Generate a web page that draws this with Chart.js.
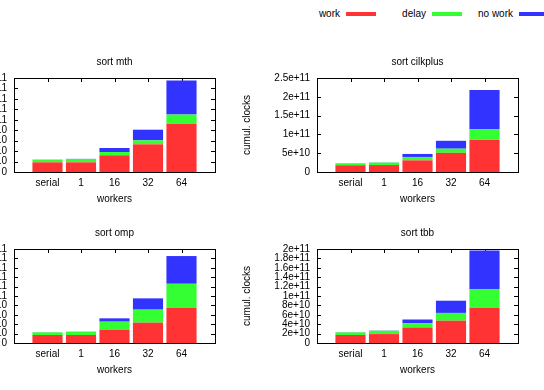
<!DOCTYPE html>
<html>
<head>
<meta charset="utf-8">
<script src="https://cdn.jsdelivr.net/npm/chart.js@4/dist/chart.umd.min.js"></script>
<style>
  body { margin: 0; width: 544px; height: 390px; overflow: hidden; background: #fff; position: relative;
         font-family: "Liberation Sans", Arial, sans-serif; font-size: 10px; color: #000; }
  .panel { position: absolute; width: 304px; height: 171px; }
  .key-text { position: absolute; top: 8px; text-align: right; white-space: nowrap; }
  .key-line { position: absolute; top: 12px; width: 30px; height: 4px; }
</style>
</head>
<body>
<div id="key"></div>
<div class="panel" style="left:-63px; top:40px"><canvas id="c1" width="304" height="171"></canvas></div>
<div class="panel" style="left:240px; top:40px"><canvas id="c2" width="304" height="171"></canvas></div>
<div class="panel" style="left:-63px; top:211px"><canvas id="c3" width="304" height="171"></canvas></div>
<div class="panel" style="left:240px; top:211px"><canvas id="c4" width="304" height="171"></canvas></div>
<script>
"use strict";
// data
const categories = ["serial", "1", "16", "32", "64"];
const seriesNames = ["work", "delay", "no work"];
const seriesColors = ["#ff3333", "#33ff33", "#3333ff"];

const mthWork   = [1.85e10, 1.85e10, 3.2e10, 5.3e10, 9.2e10];
const mthDelay  = [0.5e10, 0.65e10, 0.63e10, 0.77e10, 1.8e10];
const mthNoWork = [0.03e10, 0.02e10, 0.77e10, 2.03e10, 6.5e10];

const cilkWork   = [1.8e10, 1.85e10, 3.1e10, 5.1e10, 8.6e10];
const cilkDelay  = [0.5e10, 0.65e10, 0.9e10, 1.1e10, 2.8e10];
const cilkNoWork = [0.05e10, 0.05e10, 0.8e10, 2.1e10, 10.4e10];

const ompWork   = [1.7e10, 1.7e10, 2.84e10, 4.33e10, 7.45e10];
const ompDelay  = [0.57e10, 0.7e10, 1.7e10, 2.77e10, 5.15e10];
const ompNoWork = [0.03e10, 0.03e10, 0.71e10, 2.4e10, 5.9e10];

const tbbWork   = [1.7e10, 1.9e10, 3.3e10, 4.75e10, 7.45e10];
const tbbDelay  = [0.55e10, 0.7e10, 0.9e10, 1.65e10, 4.05e10];
const tbbNoWork = [0.05e10, 0.05e10, 0.8e10, 2.6e10, 8.2e10];

// tick ranges
const mthTicks  = { max: 1.8e11, step: 2e10 };
const cilkTicks = { max: 2.5e11, step: 5e10 };
const ompTicks  = { max: 2e11, step: 2e10 };
const tbbTicks  = { max: 2e11, step: 2e10 };

// legend (gnuplot style: text then sample)
const keyLineX = [346, 432, 519];
const key = document.getElementById("key");
seriesNames.forEach(function(name, i) {
    const t = document.createElement("div");
    t.className = "key-text";
    t.style.right = (544 - keyLineX[i] + 6) + "px";
    t.textContent = name;
    key.appendChild(t);
    const l = document.createElement("div");
    l.className = "key-line";
    l.style.left = keyLineX[i] + "px";
    l.style.background = seriesColors[i];
    key.appendChild(l);
});

Chart.defaults.font.family = '"Liberation Sans", Arial, sans-serif';
Chart.defaults.font.size = 10;
Chart.defaults.color = "#000";

function fmt(v) {
    if (v === 0) return "0";
    return parseFloat(v.toPrecision(6)).toExponential();
}

// frame, inward tics and a title centred on the plot, like gnuplot
const frame = {
    id: "frame",
    beforeDatasetsDraw(chart) {
        const c = chart.ctx, a = chart.chartArea;
        const xs = chart.scales.x, ys = chart.scales.y;
        c.save();
        c.strokeStyle = "#000";
        c.lineWidth = 1;
        c.beginPath();
        ys.ticks.forEach(function(t) {
            const y = Math.round(ys.getPixelForValue(t.value)) + 0.5;
            c.moveTo(a.left, y); c.lineTo(a.left + 4, y);
            c.moveTo(a.right, y); c.lineTo(a.right - 4, y);
        });
        categories.forEach(function(cat, i) {
            const x = Math.round(xs.getPixelForValue(i)) + 0.5;
            c.moveTo(x, a.top); c.lineTo(x, a.top + 4);
            c.moveTo(x, a.bottom); c.lineTo(x, a.bottom - 4);
        });
        c.stroke();
        c.restore();
    },
    afterDatasetsDraw(chart, args, opts) {
        const c = chart.ctx, a = chart.chartArea;
        c.save();
        c.strokeStyle = "#000";
        c.lineWidth = 1;
        c.strokeRect(Math.round(a.left) + 0.5, Math.round(a.top) + 0.5,
                     Math.round(a.right - a.left), Math.round(a.bottom - a.top));
        c.fillStyle = "#000";
        c.font = '10px "Liberation Sans", Arial, sans-serif';
        c.textAlign = "center";
        c.textBaseline = "middle";
        c.fillText(opts.title, (a.left + a.right) / 2, a.top - 16);
        c.restore();
    }
};

function makeChart(id, title, work, delay, nowork, ticks) {
    const series = [work, delay, nowork];
    new Chart(document.getElementById(id), {
        type: "bar",
        data: {
            datasets: series.map(function(vals, s) {
                return {
                    label: seriesNames[s],
                    data: vals.map(function(v, i) { return { x: i, y: v }; }),
                    backgroundColor: seriesColors[s],
                    borderWidth: 0,
                    barPercentage: 0.9,
                    categoryPercentage: 1.0
                };
            })
        },
        options: {
            responsive: false,
            animation: false,
            devicePixelRatio: 1,
            layout: { padding: { left: 0, right: 26, top: 38, bottom: 0 } },
            plugins: {
                legend: { display: false },
                tooltip: { enabled: false },
                title: { display: false },
                frame: { title: title }
            },
            scales: {
                x: {
                    type: "linear",
                    stacked: true,
                    offset: false,
                    min: -1,
                    max: 5,
                    grid: { display: false, drawTicks: false },
                    border: { display: false },
                    ticks: {
                        stepSize: 1,
                        autoSkip: false,
                        maxRotation: 0,
                        padding: 5,
                        callback: function(v) { return categories[v] !== undefined ? categories[v] : ""; }
                    },
                    title: { display: true, text: "workers", padding: { top: 0, bottom: 6 } },
                    afterFit: function(s) { s.height = 39; }
                },
                y: {
                    stacked: true,
                    min: 0,
                    max: ticks.max,
                    grid: { display: false, drawTicks: false },
                    border: { display: false },
                    ticks: { stepSize: ticks.step, autoSkip: false, padding: 7, callback: fmt },
                    title: { display: true, text: "cumul. clocks", padding: { top: 1, bottom: 0 } },
                    afterFit: function(s) { s.width = 77; }
                }
            }
        },
        plugins: [frame]
    });
}

makeChart("c1", "sort mth", mthWork, mthDelay, mthNoWork, mthTicks);
makeChart("c2", "sort cilkplus", cilkWork, cilkDelay, cilkNoWork, cilkTicks);
makeChart("c3", "sort omp", ompWork, ompDelay, ompNoWork, ompTicks);
makeChart("c4", "sort tbb", tbbWork, tbbDelay, tbbNoWork, tbbTicks);
</script>
</body>
</html>
